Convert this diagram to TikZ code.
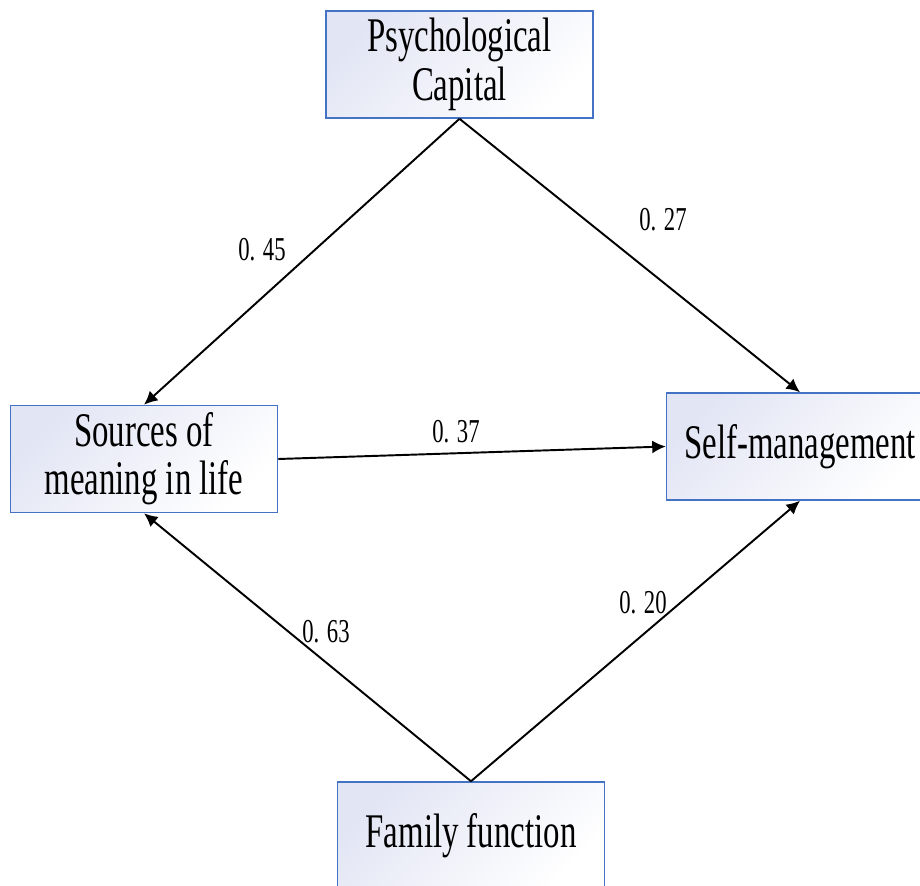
\documentclass[tikz,border=0pt]{standalone}
\usepackage{fontspec}
\setmainfont{Liberation Serif}
\newfontfamily\narrowfont{Liberation Serif}[FakeStretch=0.68]
\usepackage{tikz}
\usetikzlibrary{arrows.meta, shapes}
\tikzset{>={Latex[length=0.27cm, width=0.26cm]}}
\definecolor{myblue}{RGB}{68, 114, 196}
\definecolor{mylavender}{RGB}{226, 229, 244}

\tikzset{
  varbox/.style = {draw = myblue, line width = 0.9pt, top color = mylavender, bottom color = white,
    shading angle = 45, minimum width = 5.34cm, minimum height = 2.14cm, align = center,
    inner sep = 0pt, font = \narrowfont\fontsize{27.5}{27.5}\selectfont},
  coef/.style = {font = \narrowfont\fontsize{19}{19}\selectfont},
  path/.style = {->, line width = 1.1pt}
}

\begin{document}
\begin{tikzpicture}[x = 0.02cm, y = -0.02cm]

\useasboundingbox (0, 0) rectangle (920, 886); % page size

% the four variables
\node[varbox] (capital) at (459.5, 64.5) {Psychological\\Capital};
\node[varbox] (sources) at (144, 459) {Sources of\\meaning in life};
\node[varbox] (selfman) at (800, 446.5) {Self-management};
\node[varbox] (family) at (471, 835.5) {Family function};

% paths
\draw[path] (capital.south) -- (sources.north);
\draw[path] (capital.south) -- (selfman.north);
\draw[path] (sources.east) -- (selfman.west);
\draw[path] (family.north) -- (sources.south);
\draw[path] (family.north) -- (selfman.south);

% coefficients
\node[coef] (c45) at (262, 250) {0. 45};
\node[coef] (c27) at (663, 220) {0. 27};
\node[coef] (c37) at (456, 432) {0. 37};
\node[coef] (c63) at (326, 632) {0. 63};
\node[coef] (c20) at (643, 603) {0. 20};

\end{tikzpicture}
\end{document}
